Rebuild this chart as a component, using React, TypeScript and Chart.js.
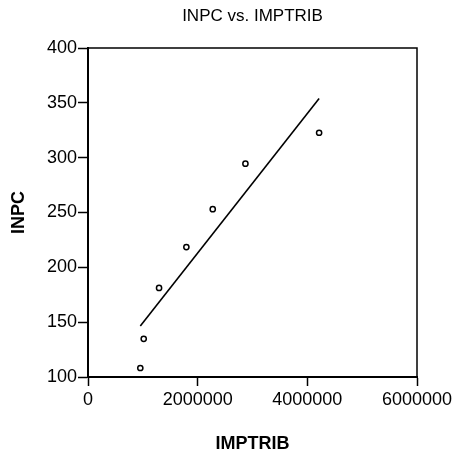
import React, { useEffect, useRef } from "react";
import { Chart, registerables } from "chart.js";

Chart.register(...registerables);

const impTrib = [954000, 1016000, 1296000, 1794000, 2275000, 2871000, 4215000];
const inpc = [108.2, 134.8, 181.2, 218.5, 253.0, 294.5, 322.7];
const fitX = [954000, 4215000];
const fitY = [146.4, 354.0];

const xTicks = [0, 2000000, 4000000, 6000000];
const yTicks = [100, 150, 200, 250, 300, 350, 400];

const FONT = "'Liberation Sans', Arial, Helvetica, sans-serif";

const framePlugin = {
  id: "frame",
  afterDatasetsDraw(chart: any) {
    const { ctx, chartArea } = chart;
    ctx.save();
    ctx.strokeStyle = "#000";
    ctx.lineWidth = 1.5;
    ctx.strokeRect(chartArea.left, chartArea.top, chartArea.right - chartArea.left, chartArea.bottom - chartArea.top);
    ctx.restore();
  },
};

export default function App() {
  const ref = useRef<HTMLCanvasElement | null>(null);
  useEffect(() => {
    if (!ref.current) return;
    const chart = new Chart(ref.current, {
      type: "scatter",
      data: {
        datasets: [
          {
            label: "INPC",
            data: impTrib.map((x, i) => ({ x, y: inpc[i] })),
            showLine: false,
            pointRadius: 2.6,
            pointBorderWidth: 1.5,
            pointBorderColor: "#000",
            pointBackgroundColor: "rgba(0,0,0,0)",
          },
          {
            label: "Fit",
            data: fitX.map((x, i) => ({ x, y: fitY[i] })),
            showLine: true,
            borderColor: "#000",
            borderWidth: 1.6,
            pointRadius: 0,
          },
        ],
      },
      options: {
        animation: false,
        responsive: true,
        maintainAspectRatio: false,
        layout: { padding: { left: 0, right: 36, top: 0, bottom: 0 } },
        plugins: {
          legend: { display: false },
          tooltip: { enabled: false },
          title: {
            display: true,
            text: "INPC vs. IMPTRIB",
            fullSize: false,
            color: "#000",
            font: { family: FONT, size: 17, weight: "normal" },
            padding: { top: 6, bottom: 21.6 },
          },
        },
        scales: {
          x: {
            type: "linear",
            min: 0,
            max: 6000000,
            afterBuildTicks: (s: any) => {
              s.ticks = xTicks.map((v) => ({ value: v }));
            },
            afterFit: (s: any) => {
              s.height = 78;
              s.paddingLeft = 0;
              s.paddingRight = 0;
            },
            ticks: {
              color: "#000",
              font: { family: FONT, size: 18 },
              padding: 3,
              maxRotation: 0,
              autoSkip: false,
              callback: (v: any) => String(v),
            },
            grid: {
              drawOnChartArea: false,
              drawTicks: true,
              tickLength: 9,
              tickColor: "#000",
              tickWidth: 1.5,
            },
            border: { display: true, color: "#000", width: 2 },
            title: {
              display: true,
              text: "IMPTRIB",
              color: "#000",
              font: { family: FONT, size: 18, weight: "bold" },
              padding: { top: 0, bottom: 0 },
            },
          },
          y: {
            type: "linear",
            min: 100,
            max: 400,
            afterBuildTicks: (s: any) => {
              s.ticks = yTicks.map((v) => ({ value: v }));
            },
            afterFit: (s: any) => {
              s.width = 88;
            },
            ticks: {
              color: "#000",
              font: { family: FONT, size: 18 },
              padding: 1,
              autoSkip: false,
              callback: (v: any) => String(v),
            },
            grid: {
              drawOnChartArea: false,
              drawTicks: true,
              tickLength: 10,
              tickColor: "#000",
              tickWidth: 1.5,
            },
            border: { display: true, color: "#000", width: 2 },
            title: {
              display: true,
              text: "INPC",
              color: "#000",
              font: { family: FONT, size: 18, weight: "bold" },
              padding: { top: 8, bottom: 0 },
            },
          },
        },
      },
      plugins: [framePlugin],
    } as any);
    return () => chart.destroy();
  }, []);
  return (
    <div style={{ position: "fixed", left: 0, top: 0, width: 453, height: 455, background: "#fff" }}>
      <canvas ref={ref} />
    </div>
  );
}
